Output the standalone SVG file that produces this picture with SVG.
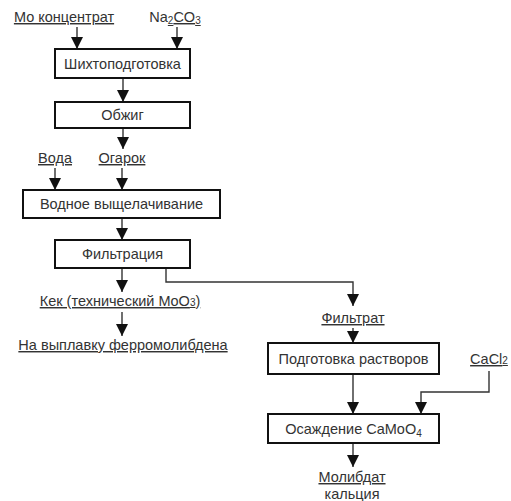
<svg xmlns="http://www.w3.org/2000/svg" width="511" height="501" viewBox="0 0 511 501">
<style>
text{font-family:"Liberation Sans",Arial,sans-serif;font-size:14.5px;fill:#333;text-anchor:middle}
.u{text-decoration:underline}
.box rect{fill:#fff;stroke:#111;stroke-width:2}
.c{fill:none;stroke:#333;stroke-width:1.4}
</style>
<defs>
<marker id="ah" viewBox="0 0 12 12" refX="12" refY="6" markerWidth="12" markerHeight="12" markerUnits="userSpaceOnUse" orient="auto">
<path d="M0,0 L12,6 L0,12 z" fill="#111"/>
</marker>
</defs>
<rect width="511" height="501" fill="#fff"/>
<g id="connectors">
<path class="c" d="M77,27 V49" marker-end="url(#ah)"/>
<path class="c" d="M177,27 V49" marker-end="url(#ah)"/>
<path class="c" d="M123,78 V102" marker-end="url(#ah)"/>
<path class="c" d="M123,128 V149" marker-end="url(#ah)"/>
<path class="c" d="M55,168 V190" marker-end="url(#ah)"/>
<path class="c" d="M122,168 V190" marker-end="url(#ah)"/>
<path class="c" d="M122,218 V240" marker-end="url(#ah)"/>
<path class="c" d="M122,268 V292" marker-end="url(#ah)"/>
<path class="c" d="M122,312 V336" marker-end="url(#ah)"/>
<path class="c" d="M166,268 V282 H353 V306" marker-end="url(#ah)"/>
<path class="c" d="M353,328 V343" marker-end="url(#ah)"/>
<path class="c" d="M353,374 V414" marker-end="url(#ah)"/>
<path class="c" d="M489,371 V392 H421 V414" marker-end="url(#ah)"/>
<path class="c" d="M353,443 V467" marker-end="url(#ah)"/>
</g>
<g id="src-mo"><text x="64" y="22" class="u">Мо концентрат</text></g>
<g id="src-na"><text x="175" y="22">Na<tspan class="u" font-size="10" dy="2">2</tspan><tspan class="u" dy="-2">CO</tspan><tspan class="u" font-size="10" dy="2">3</tspan></text></g>
<g id="shihta" class="box"><rect x="55" y="49" width="135" height="29"/><text x="122.5" y="69">Шихтоподготовка</text></g>
<g id="obzhig" class="box"><rect x="55" y="102" width="135" height="26"/><text x="122.5" y="120">Обжиг</text></g>
<g id="voda"><text x="55" y="163" class="u">Вода</text></g>
<g id="ogarok"><text x="122" y="163" class="u">Огарок</text></g>
<g id="vyshch" class="box"><rect x="23" y="190" width="197" height="28"/><text x="121.5" y="209">Водное выщелачивание</text></g>
<g id="filtr" class="box"><rect x="55" y="240" width="135" height="28"/><text x="122.5" y="259">Фильтрация</text></g>
<g id="kek"><text x="120" y="306" class="u">Кек (технический MoO<tspan font-size="10">3</tspan>)</text></g>
<g id="ferro"><text x="123" y="350" class="u">На выплавку ферромолибдена</text></g>
<g id="filtrat"><text x="353" y="323" class="u">Фильтрат</text></g>
<g id="podg" class="box"><rect x="268" y="343" width="171" height="31"/><text x="353.5" y="364">Подготовка растворов</text></g>
<g id="cacl2"><text x="489" y="364" class="u">CaCl<tspan font-size="10">2</tspan></text></g>
<g id="osazh" class="box"><rect x="268" y="414" width="171" height="29"/><text x="353.5" y="434">Осаждение CaMoO<tspan font-size="10" dy="3">4</tspan></text></g>
<g id="molib"><text x="352" y="482" class="u">Молибдат</text><text x="352" y="499">кальция</text></g>
</svg>
